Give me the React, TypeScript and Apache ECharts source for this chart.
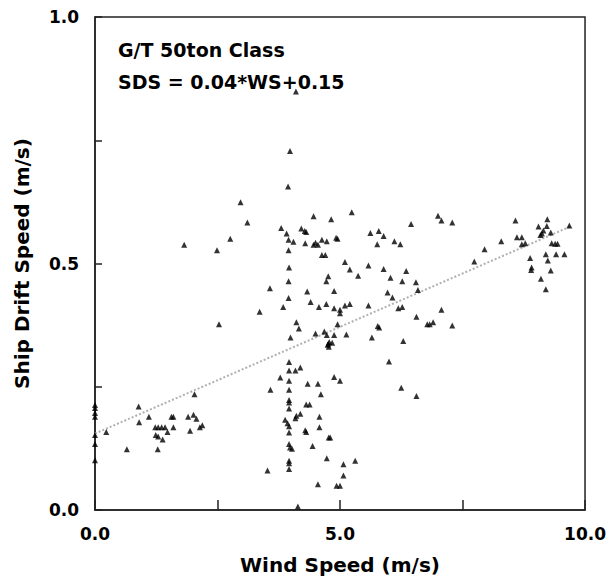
import React, { useEffect, useRef } from "react";
import * as echarts from "echarts";

// Wind speed (m/s) of each observation
const windSpeed = [
  0, 0, 0, 0, 0, 0, 0,
  0.23, 0.65, 0.89, 0.9, 1.1, 1.28, 1.23, 1.29, 1.36, 1.43, 1.24, 1.29, 1.38, 1.48, 1.56, 1.6, 1.6, 2.03, 1.9, 2.01, 2.07, 1.94, 2.14, 2.19,
  2.97, 3.11, 2.76, 1.82, 2.49, 2.53,
  3.98, 3.94, 4.1,
  4.46, 3.8, 3.91, 4.21, 4.28, 4.31, 3.95, 4.05, 4.29, 4.46, 4.5, 4.55, 4.63, 4.73, 3.95, 4.63, 4.7, 3.96, 4.76, 3.95, 4.72, 3.57, 4.33, 3.95, 4.4, 3.84, 4.57, 4.72, 3.36, 4.11, 4.16,
  3.99, 4.5, 4.68, 4.73, 4.76, 3.96, 3.96, 4.09, 4.19, 3.78, 3.96, 4.34, 4.55, 3.58, 3.96, 4.61, 3.96, 3.96, 4.31, 4.38, 3.96, 4.19, 4.11, 4.09, 4.58, 3.88, 3.93, 3.96, 4.58, 4.29, 4.31, 3.96, 4.77, 3.96, 3.98, 4.02, 4.44, 3.96, 3.96, 4.73, 3.52, 3.96, 4.55, 4.14,
  5.24, 4.82, 6.45, 5.62, 5.79, 5.89, 5.76, 6.11, 6.23, 4.92, 4.95, 5.1, 5.2, 5.58, 5.89, 6.35, 5.37, 6.03, 6.27, 6.55, 4.88, 5.97, 6.07, 6.59, 4.88, 5.0, 5.0, 5.1, 5.2, 5.58, 6.19, 6.27, 6.56, 4.95, 5.77, 5.8,
  4.88, 5.13, 4.78, 4.84, 4.75, 4.77, 5.65, 6.29, 6.0, 4.88, 5.0, 6.25, 6.56, 4.8, 5.07, 5.31, 5.07, 4.93, 5.0,
  7.0, 7.07, 7.29, 7.95, 7.74, 7.07, 6.78, 6.83, 6.9, 7.29,
  8.58, 8.29, 9.23, 9.05, 9.22, 9.68, 9.15, 9.12, 9.09, 9.3, 8.61, 8.71, 8.71, 8.78, 9.32, 9.39, 9.44, 9.2, 9.41, 9.58, 8.88, 9.24, 8.91, 8.9, 9.3, 9.1, 9.2,
];

// Ship drift speed (m/s) of each observation
const driftSpeed = [
  0.213, 0.207, 0.197, 0.189, 0.152, 0.134, 0.101,
  0.158, 0.123, 0.21, 0.178, 0.189, 0.123, 0.168, 0.168, 0.168, 0.168, 0.152, 0.149, 0.143, 0.158, 0.189, 0.189, 0.168, 0.235, 0.189, 0.193, 0.185, 0.161, 0.168, 0.172,
  0.624, 0.583, 0.55, 0.538, 0.527, 0.377,
  0.728, 0.656, 0.849,
  0.596, 0.572, 0.561, 0.571, 0.566, 0.564, 0.548, 0.544, 0.541, 0.538, 0.542, 0.538, 0.548, 0.545, 0.527, 0.517, 0.517, 0.492, 0.474, 0.464, 0.464, 0.45, 0.443, 0.43, 0.422, 0.412, 0.412, 0.418, 0.402, 0.381, 0.368,
  0.35, 0.358, 0.362, 0.355, 0.337, 0.3, 0.283, 0.283, 0.289, 0.269, 0.262, 0.256, 0.256, 0.244, 0.244, 0.235, 0.223, 0.218, 0.214, 0.214, 0.206, 0.195, 0.191, 0.186, 0.189, 0.183, 0.176, 0.17, 0.168, 0.162, 0.158, 0.157, 0.147, 0.134, 0.127, 0.124, 0.13, 0.1, 0.095, 0.105, 0.08, 0.083, 0.052, 0.007,
  0.604, 0.59, 0.58, 0.562, 0.566, 0.556, 0.539, 0.545, 0.539, 0.552, 0.55, 0.503, 0.488, 0.496, 0.489, 0.485, 0.475, 0.471, 0.464, 0.462, 0.444, 0.441, 0.431, 0.446, 0.409, 0.406, 0.399, 0.415, 0.418, 0.415, 0.409, 0.412, 0.392, 0.377, 0.373, 0.37,
  0.355, 0.356, 0.341, 0.339, 0.335, 0.331, 0.35, 0.343, 0.301, 0.27, 0.262, 0.248, 0.231, 0.147, 0.093, 0.1, 0.07, 0.049, 0.049,
  0.597, 0.587, 0.583, 0.529, 0.504, 0.406, 0.377, 0.377, 0.381, 0.374,
  0.587, 0.545, 0.59, 0.575, 0.576, 0.577, 0.567, 0.561, 0.558, 0.563, 0.553, 0.553, 0.539, 0.541, 0.541, 0.54, 0.54, 0.519, 0.519, 0.519, 0.511, 0.506, 0.492, 0.487, 0.486, 0.469, 0.448,
];

// Regression line SDS = 0.04*WS + 0.15, as drawn (end points)
const fitWind = [0, 9.7];
const fitDrift = [0.155, 0.575];

const xTickLabels = ["0.0", "5.0", "10.0"];
const yTickLabels = ["0.0", "0.5", "1.0"];

const annotationLines = ["G/T 50ton Class", "SDS = 0.04*WS+0.15"];
const xTitle = "Wind Speed (m/s)";
const yTitle = "Ship Drift Speed (m/s)";

const FONT = "'DejaVu Sans', 'Liberation Sans', sans-serif";

export default function App() {
  const ref = useRef<HTMLDivElement>(null);

  useEffect(() => {
    if (!ref.current) return;
    const chart = echarts.init(ref.current, null, { renderer: "svg" });
    const points = windSpeed.map((w, i) => [w, driftSpeed[i]]);
    const fit = fitWind.map((w, i) => [w, fitDrift[i]]);

    chart.setOption({
      animation: false,
      backgroundColor: "#fff",
      textStyle: { fontFamily: FONT },
      grid: {
        left: 95,
        right: 22,
        top: 17,
        bottom: 76,
        show: true,
        borderColor: "#222",
        borderWidth: 1.5,
        backgroundColor: "transparent",
      },
      xAxis: {
        type: "value",
        min: 0,
        max: 10,
        interval: 2.5,
        name: xTitle,
        nameLocation: "middle",
        nameGap: 45,
        nameTextStyle: { fontFamily: FONT, fontWeight: "bold", fontSize: 20, color: "#000" },
        axisLine: { show: true, lineStyle: { color: "#222", width: 1.5 } },
        axisTick: { show: true, inside: true, length: 10, lineStyle: { color: "#222", width: 1.5 } },
        splitLine: { show: false },
        axisLabel: {
          margin: 15,
          fontFamily: FONT,
          fontWeight: "bold",
          fontSize: 17,
          color: "#000",
          showMinLabel: true,
          showMaxLabel: true,
          formatter: (v: number) => {
            const s = v.toFixed(1);
            return xTickLabels.includes(s) ? s : "";
          },
        },
      },
      yAxis: {
        type: "value",
        min: 0,
        max: 1,
        interval: 0.25,
        name: yTitle,
        nameLocation: "middle",
        nameGap: 63,
        nameTextStyle: { fontFamily: FONT, fontWeight: "bold", fontSize: 20, color: "#000" },
        axisLine: { show: true, lineStyle: { color: "#222", width: 1.5 } },
        axisTick: { show: true, inside: true, length: 7, lineStyle: { color: "#222", width: 1.5 } },
        splitLine: { show: false },
        axisLabel: {
          margin: 16,
          fontFamily: FONT,
          fontWeight: "bold",
          fontSize: 17,
          color: "#000",
          showMinLabel: true,
          showMaxLabel: true,
          formatter: (v: number) => {
            const s = v.toFixed(1);
            return yTickLabels.includes(s) ? s : "";
          },
        },
      },
      graphic: annotationLines.map((t, i) => ({
        type: "text",
        left: 118,
        top: 40 + i * 32,
        style: {
          text: t,
          font: `bold 19px ${FONT}`,
          fill: "#000",
        },
      })),
      series: [
        {
          type: "line",
          data: fit,
          showSymbol: false,
          symbol: "none",
          lineStyle: { color: "#b0b0b0", width: 2, type: "dotted" },
          z: 1,
        },
        {
          type: "scatter",
          data: points,
          symbol: "triangle",
          symbolSize: 6,
          itemStyle: { color: "#000" },
          z: 2,
        },
      ],
    });

    return () => chart.dispose();
  }, []);

  return (
    <div
      ref={ref}
      style={{ position: "absolute", left: 0, top: 0, width: 609, height: 586, background: "#fff" }}
    />
  );
}
